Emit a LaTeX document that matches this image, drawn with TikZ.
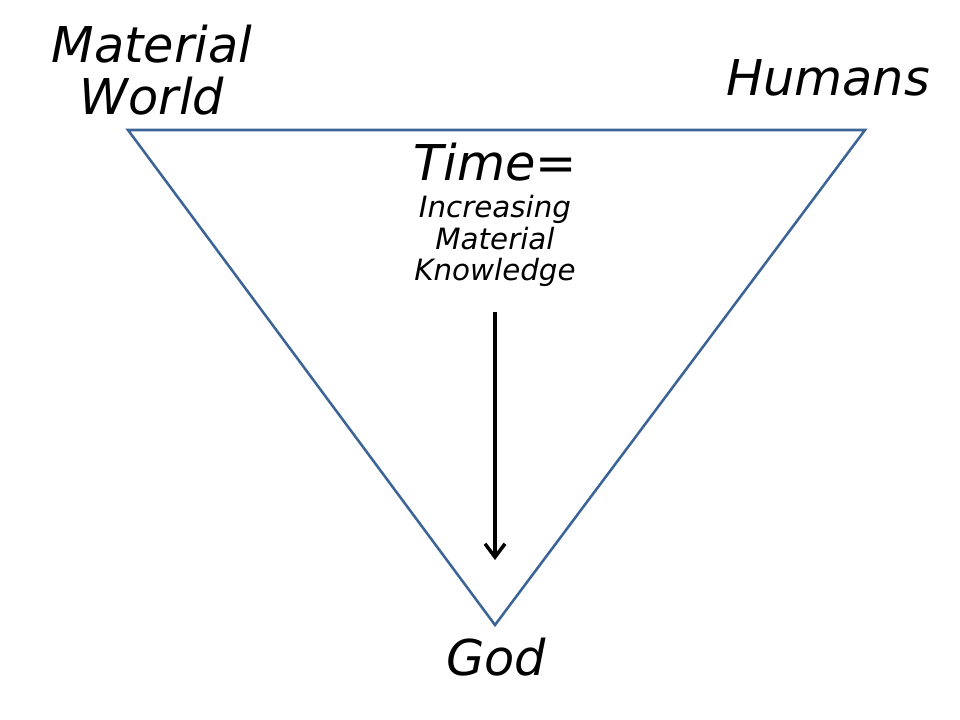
\documentclass[tikz,border=0pt]{standalone}
\usepackage{fontspec}
\setmainfont{DejaVu Sans}
\usetikzlibrary{arrows.meta}
\definecolor{edgeblue}{HTML}{3C6496}
\tikzset{
  bigword/.style={font=\fontsize{37}{39}\selectfont\itshape, align=center, inner sep=0pt},
  smallword/.style={font=\fontsize{22}{23.5}\selectfont\itshape, align=center, inner sep=0pt},
  edge/.style={draw=edgeblue, line width=1.9pt, line join=miter},
  timearrow/.style={-{Straight Barb[length=10pt,width=15pt,line width=2.6pt]}, line width=2.6pt}
}
\begin{document}
\begin{tikzpicture}[x=0.75pt,y=-0.75pt]
\useasboundingbox (0,0) rectangle (960,720);
% corners of the triangle
\coordinate (world) at (128,130);
\coordinate (humans) at (865,130);
\coordinate (god) at (495,625);
\draw[edge] (world) -- (humans) -- (god) -- cycle;
\node[bigword] (worldlabel) at (152,70) {Material\\World};
\node[bigword] (humanslabel) at (828,78) {Humans};
\node[bigword] (godlabel) at (496,657) {God};
\node[bigword] (timelabel) at (495,162) {Time=};
\node[smallword] (knowledge) at (495,241) {Increasing\\Material\\Knowledge};
\coordinate (arrowtop) at (495,312);
\coordinate (arrowtip) at (495,560);
\draw[timearrow] (arrowtop) -- (arrowtip);
\end{tikzpicture}
\end{document}
